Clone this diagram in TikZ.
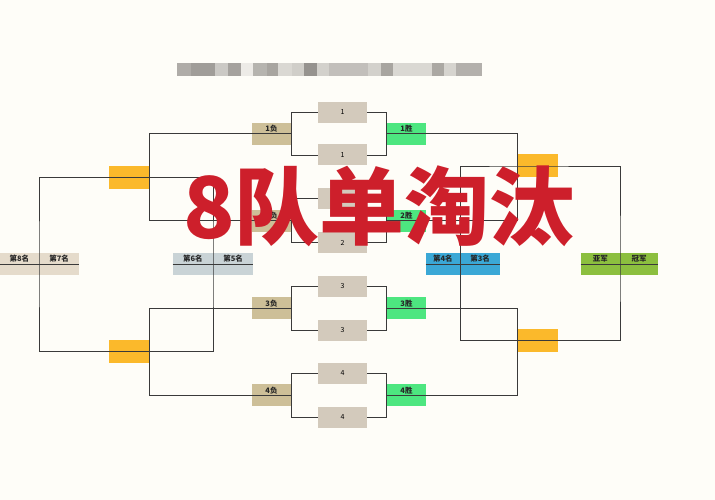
\documentclass[tikz,border=0pt]{standalone}
\usepackage{fontspec}
\newfontfamily\cjk{Noto Sans CJK SC}
\definecolor{bgc}{HTML}{FEFDF8}
\definecolor{matchc}{HTML}{D3CABC}
\definecolor{losec}{HTML}{CDBF98}
\definecolor{winc}{HTML}{4DE680}
\definecolor{yellowc}{HTML}{FBB92B}
\definecolor{c87}{HTML}{E5DBCB}
\definecolor{c65}{HTML}{C9D3D6}
\definecolor{c43}{HTML}{3BA8D6}
\definecolor{cch}{HTML}{8CBF3F}
\definecolor{linec}{HTML}{3A3A3A}
\definecolor{titlec}{HTML}{CD1F2B}
\definecolor{mosaic}{HTML}{6E6A66}
\begin{document}
\begin{tikzpicture}[x=1pt,y=-1pt,
  wire/.style={draw=linec,line width=0.9pt},
  lbl/.style={font=\cjk\bfseries\fontsize{7.5}{8}\selectfont, text=black!85, inner sep=0},
  matchbox/.style={fill=matchc, minimum width=49pt, minimum height=21pt, inner sep=0, font=\cjk\fontsize{7}{8}\selectfont},
  sidebox/.style={minimum width=39pt, minimum height=22pt, inner sep=0},
  losebox/.style={sidebox, fill=losec},
  winbox/.style={sidebox, fill=winc},
  semibox/.style={fill=yellowc, minimum width=40pt, minimum height=23pt, inner sep=0},
  rankcell/.style={minimum height=22pt, inner sep=0},
  toptext/.style={label={[lbl,yshift=5pt]center:#1}},
]
\fill[bgc] (0,0) rectangle (715,500);
\useasboundingbox (0,0) rectangle (715,500);

% blurred heading
\foreach \a/\b/\c in {177/191/55,191/215/65,215/228/35,228/241/62,241/253/12,253/267/50,267/278/60,278/292/25,292/304/32,304/317/72,317/329/30,329/368/42,368/381/30,381/393/60,393/432/25,432/444/58,444/456/28,456/482/52}
  \fill[mosaic!\c!bgc] (\a,63) rectangle (\b,76);

% match boxes
\node[matchbox] (m1a) at (342.5,112.5) {1};
\node[matchbox] (m1b) at (342.5,155) {1};
\node[matchbox] (m2a) at (342.5,198.5) {2};
\node[matchbox] (m2b) at (342.5,242.5) {2};
\node[matchbox] (m3a) at (342.5,286.5) {3};
\node[matchbox] (m3b) at (342.5,330) {3};
\node[matchbox] (m4a) at (342.5,373.5) {4};
\node[matchbox] (m4b) at (342.5,417) {4};

% losers / winners
\node[losebox, toptext=1负] (l1) at (271.5,133.75) {};
\node[losebox, toptext=2负] (l2) at (271.5,220.5) {};
\node[losebox, toptext=3负] (l3) at (271.5,308.25) {};
\node[losebox, toptext=4负] (l4) at (271.5,395.25) {};
\node[winbox, toptext=1胜] (w1) at (406.5,133.75) {};
\node[winbox, toptext=2胜] (w2) at (406.5,220.5) {};
\node[winbox, toptext=3胜] (w3) at (406.5,308.25) {};
\node[winbox, toptext=4胜] (w4) at (406.5,395.25) {};

% semifinal boxes
\node[semibox] (yl1) at (129,177.5) {};
\node[semibox] (yl2) at (129,351.5) {};
\node[semibox] (yr1) at (538,166) {};
\node[semibox] (yr2) at (538,340.5) {};

% ranking boxes
\node[rankcell, fill=c87, minimum width=39pt, anchor=east, toptext=第8名] (r8) at (39,264) {};
\node[rankcell, fill=c87, minimum width=40pt, anchor=west, toptext=第7名] (r7) at (39,264) {};
\node[rankcell, fill=c65, minimum width=40pt, anchor=east, toptext=第6名] (r6) at (213,264) {};
\node[rankcell, fill=c65, minimum width=40pt, anchor=west, toptext=第5名] (r5) at (213,264) {};
\node[rankcell, fill=c43, minimum width=34pt, anchor=east, toptext=第4名] (r4) at (460,264) {};
\node[rankcell, fill=c43, minimum width=40pt, anchor=west, toptext=第3名] (r3) at (460,264) {};
\node[rankcell, fill=cch, minimum width=39pt, anchor=east, toptext=亚军] (r2) at (620,264) {};
\node[rankcell, fill=cch, minimum width=38pt, anchor=west, toptext=冠军] (r1) at (620,264) {};

% wires
\foreach \k in {1,2,3,4}{
  \draw[wire] (m\k a.west) -| (l\k.east) |- (m\k b.west);
  \draw[wire] (m\k a.east) -| (w\k.west) |- (m\k b.east);
}
\draw[wire] (l1.east) -| (yl1.east) |- (l2.east);
\draw[wire] (l3.east) -| (yl2.east) |- (l4.east);
\draw[wire] (w1.west) -| (yr1.west) |- (w2.west);
\draw[wire] (w3.west) -| (yr2.west) |- (w4.west);
\draw[wire] (yl1.east) -| (r6.east) |- (yl2.east) -| (r8.east) |- (yl1.east);
\draw[wire] (r4.east) |- (yr1.west) -| (r2.east) |- (yr2.west) -| (r4.east);
\draw[wire] (r8.west) -- (r7.east);
\draw[wire] (r6.west) -- (r5.east);
\draw[wire] (r4.west) -- (r3.east);
\draw[wire] (r2.west) -- (r1.east);

% title
\node[font=\cjk\bfseries\fontsize{85}{90}\selectfont, text=titlec, anchor=base, inner sep=0] (title) at (379,238) {8队单淘汰};
\end{tikzpicture}
\end{document}
